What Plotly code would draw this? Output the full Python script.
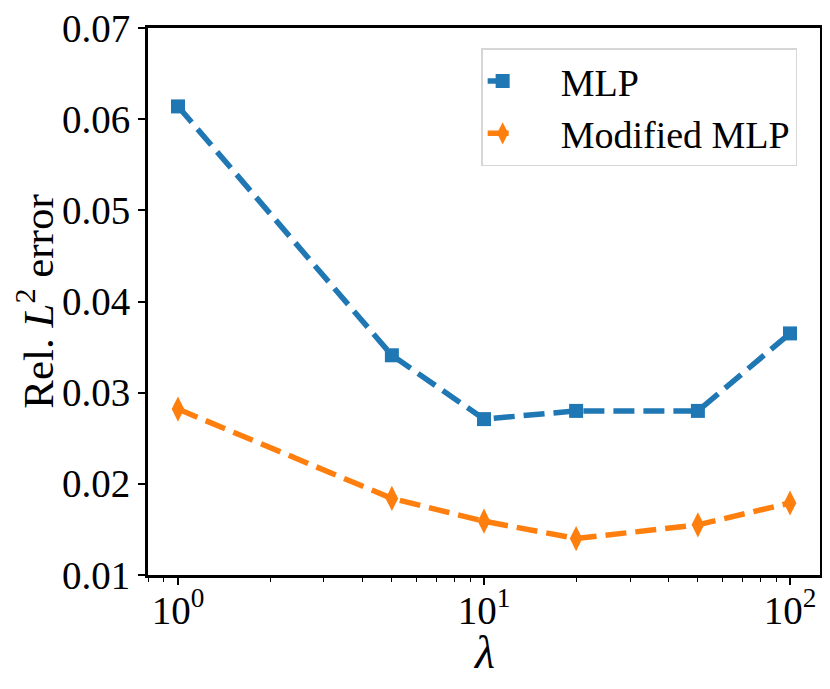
import plotly.graph_objects as go

lambdas = [1, 5, 10, 20, 50, 100]
mlp_err = [0.0614, 0.0341, 0.0271, 0.0280, 0.0280, 0.0365]
mod_mlp_err = [0.0282, 0.0184, 0.0159, 0.0140, 0.0155, 0.0179]

x_tickvals = [1, 10, 100]
x_ticktext = ["10<sup>0</sup>", "10<sup>1</sup>", "10<sup>2</sup>"]
y_tickvals = [0.01, 0.02, 0.03, 0.04, 0.05, 0.06, 0.07]
y_ticktext = ["0.01", "0.02", "0.03", "0.04", "0.05", "0.06", "0.07"]
minor_vals = [0.8, 0.9, 2, 3, 4, 5, 6, 7, 8, 9, 20, 30, 40, 50, 60, 70, 80, 90]

FONT = "Liberation Serif"


def main():
    fig = go.Figure()
    fig.add_trace(go.Scatter(
        x=lambdas, y=mlp_err, mode="lines+markers", name="\u2003MLP",
        line=dict(color="#1f77b4", width=5.5, dash="21px,9px"),
        marker=dict(symbol="square", size=14, color="#1f77b4")))
    fig.add_trace(go.Scatter(
        x=lambdas, y=mod_mlp_err, mode="lines+markers", name="\u2003Modified MLP",
        line=dict(color="#ff7f0e", width=5.5, dash="21px,9px"),
        marker=dict(symbol="diamond-tall", size=18, color="#ff7f0e")))

    axis_common = dict(showline=True, linecolor="black", linewidth=3, mirror=True,
                       ticks="outside", ticklen=7, tickwidth=1.5, tickcolor="black",
                       showgrid=False, zeroline=False, automargin=False,
                       ticklabeloverflow="allow",
                       tickfont=dict(family=FONT, size=39, color="black"))
    # page body adds an 8px offset, so the figure is a bit smaller than the window
    fig.update_layout(
        width=822, height=681,
        margin=dict(l=140, r=10, t=20, b=114),
        plot_bgcolor="white", paper_bgcolor="white",
        font=dict(family=FONT, color="black"),
        xaxis=dict(type="log", range=[-0.098, 2.098],
                   tickvals=x_tickvals, ticktext=x_ticktext, ticklabelstandoff=-8,
                   minor=dict(tickvals=minor_vals, ticks="outside", ticklen=4,
                              tickwidth=1, tickcolor="black", showgrid=False),
                   **axis_common),
        yaxis=dict(range=[0.01, 0.07], tickvals=y_tickvals, ticktext=y_ticktext,
                   title=dict(text="Rel. <i>L</i><sup>2</sup> error",
                              font=dict(family=FONT, size=43), standoff=14),
                   **axis_common),
        legend=dict(x=0.966, y=0.963, xanchor="right", yanchor="top",
                    bgcolor="rgba(255,255,255,0.8)", bordercolor="#d6d6d6", borderwidth=1.5,
                    font=dict(family=FONT, size=38), tracegroupgap=8),
    )
    # x-axis title as annotation, the superscript tick labels push a real title too low
    fig.add_annotation(text="<i>λ</i>", xref="paper", yref="paper", x=0.5, y=-0.142,
                       xanchor="center", yanchor="middle", showarrow=False,
                       font=dict(family=FONT, size=46, color="black"))

    fig.write_html("out.html")


if __name__ == "__main__":
    main()
